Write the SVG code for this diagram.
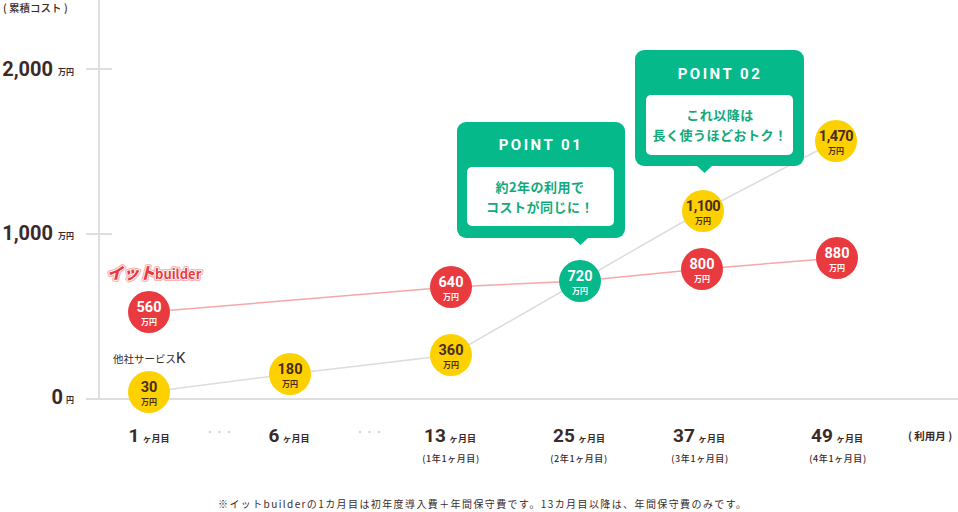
<svg xmlns="http://www.w3.org/2000/svg" width="958" height="512" viewBox="0 0 958 512">
<style>
.jp{font-family:"Noto Sans CJK JP","Noto Sans",sans-serif;}
.ax{fill:#3a2a2a;}
.axnum{font-family:Roboto,"Liberation Sans",sans-serif;font-weight:700;font-size:20px;fill:#3a2a2a;}
.unit{font-family:"Noto Sans CJK JP",sans-serif;font-weight:700;font-size:8px;fill:#3a2a2a;}
.cn{font-family:Roboto,"Liberation Sans",sans-serif;font-weight:700;font-size:14.5px;text-anchor:middle;}
.cu{font-family:"Noto Sans CJK JP",sans-serif;font-weight:700;font-size:8px;text-anchor:middle;}
.red circle{fill:#e93a40;}
.red text{fill:#fff;}
.yel circle{fill:#fdd000;}
.yel text{fill:#4a2c1e;}
.grn circle{fill:#06b98a;}
.grn text{fill:#fff;}
.xm{font-family:Roboto,"Liberation Sans",sans-serif;font-weight:700;font-size:19px;fill:#3a2a2a;}
.xu{font-family:"Noto Sans CJK JP",sans-serif;font-weight:700;font-size:9px;fill:#3a2a2a;}
.xs{font-family:"Noto Sans CJK JP",sans-serif;font-weight:500;font-size:9px;fill:#3a2a2a;text-anchor:middle;letter-spacing:0.6px;}
.box{fill:#06b98a;}
.pt{font-family:Roboto,"Liberation Sans",sans-serif;font-weight:700;font-size:15px;fill:#fff;letter-spacing:2.5px;text-anchor:middle;}
.bt{font-family:"Noto Sans CJK JP",sans-serif;font-weight:700;font-size:13px;fill:#12a97c;text-anchor:middle;letter-spacing:0.5px;}
</style>

<g id="axes" stroke="#dedede" stroke-width="2" fill="none">
  <line x1="99" y1="0" x2="99" y2="399"/>
  <line x1="86" y1="399" x2="958" y2="399"/>
  <line x1="86" y1="69" x2="112" y2="69"/>
  <line x1="86" y1="234" x2="112" y2="234"/>
</g>

<g id="y-labels">
  <text class="jp ax" x="3" y="12" font-size="10.5" font-weight="500">( 累積コスト )</text>
  <text class="axnum" x="53" y="76" text-anchor="end">2,000</text>
  <text class="unit" x="58" y="75">万円</text>
  <text class="axnum" x="53" y="240" text-anchor="end">1,000</text>
  <text class="unit" x="58" y="239">万円</text>
  <text class="axnum" x="63" y="404" text-anchor="end">0</text>
  <text class="unit" x="66" y="403">円</text>
</g>

<g id="connectors" fill="none" stroke-width="1.5">
  <polyline stroke="#f7a7a8" points="149,312 451,287 580,281 702,269 837,258"/>
  <polyline stroke="#dcdcdc" points="149,392 290,374 451,355 580,281 702,211 836,141"/>
</g>

<g id="legend-itbuilder">
  <text x="107" y="279" font-family="'Noto Sans CJK JP',sans-serif" font-weight="900" font-size="16" font-style="italic" fill="#e93a40" stroke="#f7b3b6" stroke-width="4" stroke-linejoin="round">イット<tspan font-size="13" font-weight="700" font-style="normal">builder</tspan></text>
  <text x="107" y="279" font-family="'Noto Sans CJK JP',sans-serif" font-weight="900" font-size="16" font-style="italic" fill="#e93a40" stroke="#fff" stroke-width="1.6" stroke-linejoin="round" paint-order="stroke">イット<tspan font-size="13" font-weight="700" font-style="normal">builder</tspan></text>
</g>
<g id="legend-other">
  <text x="113" y="363" class="jp" font-size="10.5" fill="#3a2a2a">他社サービス<tspan font-family="Roboto,sans-serif" font-size="15" font-weight="400">K</tspan></text>
</g>

<g id="node-r560" class="red"><circle cx="149" cy="312" r="21"/><text class="cn" x="149" y="312">560</text><text class="cu" x="149" y="325">万円</text></g>
<g id="node-r640" class="red"><circle cx="451" cy="287" r="21"/><text class="cn" x="451" y="287">640</text><text class="cu" x="451" y="300">万円</text></g>
<g id="node-r800" class="red"><circle cx="702" cy="269" r="21"/><text class="cn" x="702" y="269">800</text><text class="cu" x="702" y="282">万円</text></g>
<g id="node-r880" class="red"><circle cx="837" cy="258" r="21"/><text class="cn" x="837" y="258">880</text><text class="cu" x="837" y="271">万円</text></g>

<g id="node-y30" class="yel"><circle cx="149" cy="392" r="21"/><text class="cn" x="149" y="392">30</text><text class="cu" x="149" y="405">万円</text></g>
<g id="node-y180" class="yel"><circle cx="290" cy="374" r="21"/><text class="cn" x="290" y="374">180</text><text class="cu" x="290" y="387">万円</text></g>
<g id="node-y360" class="yel"><circle cx="451" cy="355" r="21"/><text class="cn" x="451" y="355">360</text><text class="cu" x="451" y="368">万円</text></g>
<g id="node-y1100" class="yel"><circle cx="703" cy="211" r="21"/><text class="cn" x="703" y="211" letter-spacing="-0.5">1,100</text><text class="cu" x="703" y="224">万円</text></g>
<g id="node-y1470" class="yel"><circle cx="836" cy="141" r="21"/><text class="cn" x="836" y="141" letter-spacing="-0.5">1,470</text><text class="cu" x="836" y="154">万円</text></g>

<g id="node-g720" class="grn"><circle cx="580" cy="281" r="21"/><text class="cn" x="580" y="281">720</text><text class="cu" x="580" y="294">万円</text></g>

<g id="callout-point01">
  <rect class="box" x="457" y="122" width="168" height="116" rx="9"/>
  <polygon class="box" points="572,237 589,237 580.5,245"/>
  <text class="pt" x="541" y="150">POINT 01</text>
  <rect x="467" y="167" width="147" height="59" rx="5" fill="#fff"/>
  <text class="bt" x="540" y="192">約2年の利用で</text>
  <text class="bt" x="540" y="212">コストが同じに！</text>
</g>

<g id="callout-point02">
  <rect class="box" x="635" y="50" width="169" height="116" rx="9"/>
  <polygon class="box" points="696,165 713,165 704.5,173"/>
  <text class="pt" x="720" y="79">POINT 02</text>
  <rect x="646" y="95" width="147" height="60" rx="5" fill="#fff"/>
  <text class="bt" x="720" y="120">これ以降は</text>
  <text class="bt" x="720" y="140">長く使うほどおトク！</text>
</g>

<g id="x-labels">
  <text x="149" y="442" text-anchor="middle"><tspan class="xm">1</tspan><tspan class="xu" dx="3">ヶ月目</tspan></text>
  <text x="289" y="442" text-anchor="middle"><tspan class="xm">6</tspan><tspan class="xu" dx="3">ヶ月目</tspan></text>
  <text x="450" y="442" text-anchor="middle"><tspan class="xm">13</tspan><tspan class="xu" dx="3">ヶ月目</tspan></text>
  <text x="579" y="442" text-anchor="middle"><tspan class="xm">25</tspan><tspan class="xu" dx="3">ヶ月目</tspan></text>
  <text x="699" y="442" text-anchor="middle"><tspan class="xm">37</tspan><tspan class="xu" dx="3">ヶ月目</tspan></text>
  <text x="837" y="442" text-anchor="middle"><tspan class="xm">49</tspan><tspan class="xu" dx="3">ヶ月目</tspan></text>
  <text class="xs" x="451" y="462">(1年1ヶ月目)</text>
  <text class="xs" x="579" y="462">(2年1ヶ月目)</text>
  <text class="xs" x="700" y="462">(3年1ヶ月目)</text>
  <text class="xs" x="838" y="462">(4年1ヶ月目)</text>
  <text class="jp" x="930" y="440" text-anchor="middle" font-size="10.5" font-weight="700" fill="#3a2a2a">( 利用月 )</text>
  <g fill="#d8d8d8">
    <circle cx="210" cy="432" r="1.3"/><circle cx="219.5" cy="432" r="1.3"/><circle cx="229" cy="432" r="1.3"/>
    <circle cx="360" cy="432" r="1.3"/><circle cx="369.5" cy="432" r="1.3"/><circle cx="379" cy="432" r="1.3"/>
  </g>
</g>

<text class="jp" x="218" y="508" font-size="10" letter-spacing="1.4" fill="#3a2a2a">※イットbuilderの1カ月目は初年度導入費＋年間保守費です。13カ月目以降は、年間保守費のみです。</text>
</svg>
